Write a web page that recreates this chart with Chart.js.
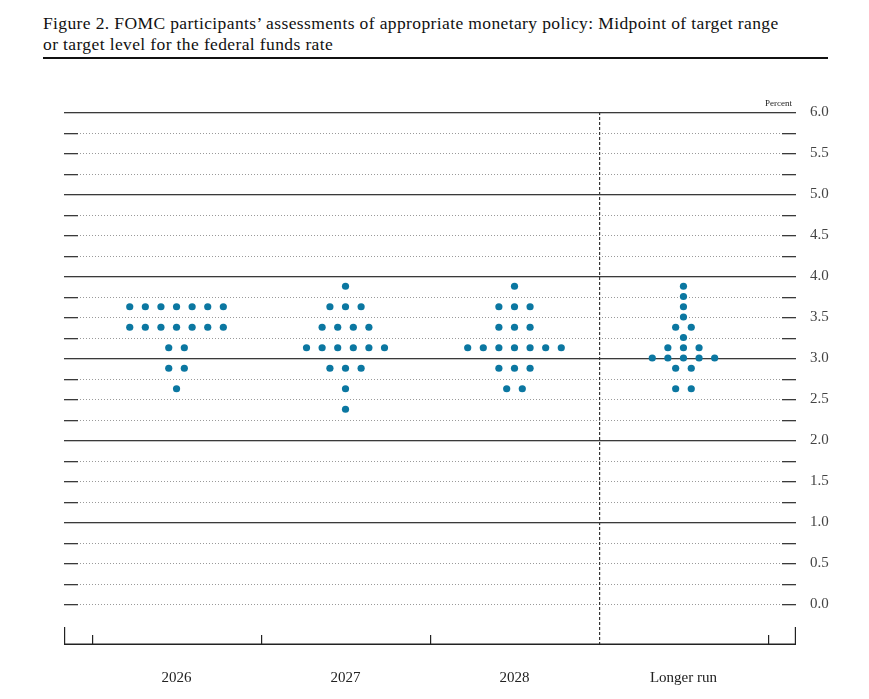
<!DOCTYPE html>
<html>
<head>
<meta charset="utf-8">
<script src="https://cdn.jsdelivr.net/npm/chart.js@4.4.1/dist/chart.umd.min.js"></script>
<style>
  body { margin: 0; background: #fff; }
  #wrap { position: relative; width: 869px; height: 699px; }
  #title {
    position: absolute; left: 43px; top: 13px;
    font-family: "Liberation Serif", serif; font-size: 17.5px; line-height: 21px;
    color: #111; letter-spacing: 0.38px; white-space: nowrap;
  }
  #rule { position: absolute; left: 43px; top: 57px; width: 785px; height: 2px; background: #111; }
  canvas { position: absolute; left: 0; top: 0; }
</style>
</head>
<body>
<div id="wrap">
  <div id="title">Figure 2. FOMC participants’ assessments of appropriate monetary policy: Midpoint of target range<br>or target level for the federal funds rate</div>
  <div id="rule"></div>
  <canvas id="dotChart" width="869" height="699"></canvas>
</div>
<script>
// categories along the bottom
const categories = ['2026', '2027', '2028', 'Longer run'];

// rate levels (percent) and how many participants put a dot at each level
const midpoints    = [3.875, 3.75, 3.625, 3.5, 3.375, 3.25, 3.125, 3.0, 2.875, 2.625, 2.375];
const counts2026   = [0, 0, 7, 0, 7, 0, 2, 0, 2, 1, 0];
const counts2027   = [1, 0, 3, 0, 4, 0, 6, 0, 3, 1, 1];
const counts2028   = [1, 0, 3, 0, 3, 0, 7, 0, 3, 2, 0];
const countsLonger = [1, 1, 1, 1, 2, 1, 3, 5, 2, 2, 0];

// y labels shown on the right
const yLabels = ['0.0', '0.5', '1.0', '1.5', '2.0', '2.5', '3.0', '3.5', '4.0', '4.5', '5.0', '5.5', '6.0'];

const allCounts = [counts2026, counts2027, counts2028, countsLonger];
const dotStep = 0.0923; // horizontal gap between dots in category units

let points = [];
allCounts.forEach((counts, ci) => {
    counts.forEach((n, li) => {
        for (let k = 0; k < n; k++) {
            points.push({ x: ci + 1 + (k - (n - 1) / 2) * dotStep, y: midpoints[li] });
        }
    });
});

const frame = {
    id: 'frame',
    beforeDatasetsDraw(chart) {
        const ctx = chart.ctx;
        const a = chart.chartArea;
        const ys = chart.scales.y;
        const xs = chart.scales.x;
        const L = Math.round(a.left), R = Math.round(a.right);
        ctx.save();

        // horizontal rules every 0.25
        for (let i = 0; i <= 24; i++) {
            const v = i * 0.25;
            const y = Math.round(ys.getPixelForValue(v));
            if (v > 0 && v % 1 === 0) {
                ctx.fillStyle = '#3a3a3a';
                ctx.fillRect(L, y, R - L, 1.3);
            } else {
                ctx.fillStyle = '#3a3a3a';
                ctx.fillRect(L, y, 14, 1.3);
                ctx.fillRect(R - 14, y, 14, 1.3);
                ctx.fillStyle = '#9a9a9a';
                for (let x = L + 16; x < R - 15; x += 3) ctx.fillRect(x, y, 1, 1);
            }
        }

        // dashed divider before "Longer run"
        const dx = Math.round(xs.getPixelForValue(3.5));
        ctx.fillStyle = '#333';
        for (let y = Math.round(a.top); y < a.bottom; y += 5) ctx.fillRect(dx, y, 1.2, 3);

        // bottom axis and ticks
        const by = Math.round(a.bottom);
        ctx.fillStyle = '#222';
        ctx.fillRect(L, by - 1.5, R - L, 1.5);
        ctx.fillRect(L, by - 18, 1.2, 18);
        ctx.fillRect(R - 1.2, by - 18, 1.2, 18);
        [0.5, 1.5, 2.5, 4.5].forEach(v => {
            const tx = Math.round(xs.getPixelForValue(v));
            ctx.fillRect(tx, by - 10, 1.2, 10);
        });

        // units note
        ctx.fillStyle = '#222';
        ctx.font = '9px "Liberation Serif", serif';
        ctx.textAlign = 'right';
        ctx.textBaseline = 'alphabetic';
        ctx.fillText('Percent', R - 4, a.top - 6);
        ctx.restore();
    }
};

new Chart(document.getElementById('dotChart'), {
    type: 'scatter',
    data: {
        datasets: [{
            data: points,
            backgroundColor: '#0b77a1',
            borderWidth: 0,
            pointRadius: 3.6,
            pointHoverRadius: 3.6
        }]
    },
    options: {
        responsive: false,
        animation: false,
        layout: { padding: { top: 112, left: 64, right: 0, bottom: 0 } },
        scales: {
            x: {
                type: 'linear',
                min: 0.334,
                max: 4.666,
                afterBuildTicks: s => { s.ticks = categories.map((c, i) => ({ value: i + 1 })); },
                afterFit: s => { s.height = 54; },
                grid: { display: false, drawTicks: false },
                border: { display: false },
                ticks: {
                    autoSkip: false,
                    maxRotation: 0,
                    padding: 24,
                    color: '#222',
                    font: { family: '"Liberation Serif", serif', size: 15 },
                    callback: v => categories[Math.round(v) - 1]
                }
            },
            y: {
                type: 'linear',
                position: 'right',
                min: -0.5,
                max: 6,
                afterBuildTicks: s => { s.ticks = yLabels.map(t => ({ value: parseFloat(t) })); },
                afterFit: s => { s.width = 73; },
                grid: { display: false, drawTicks: false },
                border: { display: false },
                ticks: {
                    autoSkip: false,
                    padding: 14,
                    color: '#444',
                    font: { family: '"Liberation Serif", serif', size: 15 },
                    callback: v => v.toFixed(1)
                }
            }
        },
        plugins: {
            legend: { display: false },
            tooltip: { enabled: false }
        }
    },
    plugins: [frame]
});
</script>
</body>
</html>
